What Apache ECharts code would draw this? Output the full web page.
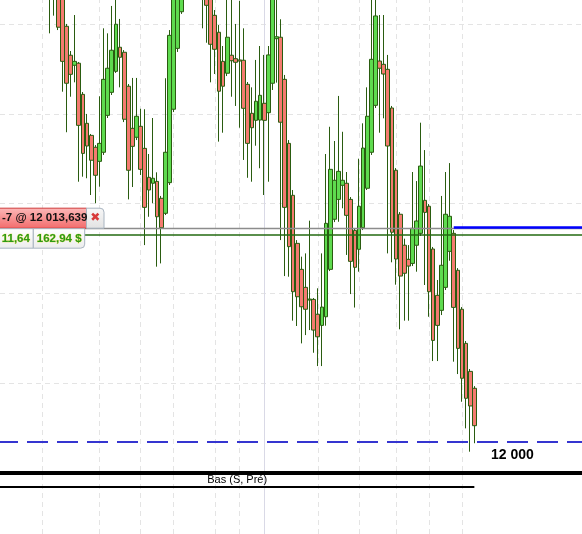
<!DOCTYPE html>
<html><head><meta charset="utf-8">
<script src="https://cdn.jsdelivr.net/npm/echarts@6/dist/echarts.min.js"></script>
<style>html,body{margin:0;padding:0;background:#fff;overflow:hidden}#c{width:582px;height:534px}</style>
</head><body><div id="c"></div>
<script>
// ---- candle data (bar index, OHLC) ----
const opens = [12031.42,12029.50,12030.14,12028.54,12026.54,12024.69,12024.05,12024.18,12022.19,12020.34,
 12019.57,12018.81,12017.91,12018.49,12020.85,12022.32,12023.66,12025.20,12024.88,12022.71,
 12020.02,12019.45,12020.15,12018.74,12016.89,12016.51,12016.63,12015.55,12014.59,12016.55,
 12021.24,12025.13,12027.47,12031.10,12032.69,12031.73,12033.01,12030.78,12028.86,12028.54,
 12027.24,12026.16,12024.30,12023.54,12024.69,12024.47,12024.39,12024.37,12022.83,12020.98,
 12020.53,12020.55,12021.62,12021.02,12022.90,12025.75,12025.84,12023.15,12019.06,12015.74,
 12012.67,12011.01,12009.86,12009.05,12009.09,12008.14,12007.43,12007.98,12011.01,12014.21,
 12015.48,12016.38,12016.51,12015.48,12013.50,12012.29,12013.67,12016.19,12018.49,12021.49,
 12024.32,12024.11,12023.79,12021.32,12017.34,12014.53,12012.55,12011.65,12011.39,12012.55,
 12013.31,12015.42,12015.04,12012.31,12009.35,12008.39,12009.86,12012.16,12013.31,12010.95,
 12008.46,12006.28,12004.49,12003.41];
const closes = [12029.18,12031.10,12026.48,12024.30,12022.90,12023.47,12024.30,12020.21,12018.42,12018.89,
 12017.98,12017.02,12019.06,12023.15,12023.86,12025.01,12026.67,12024.56,12020.60,12017.34,
 12018.87,12020.79,12017.40,12014.97,12016.08,12016.83,12014.37,12013.67,12018.49,12025.96,
 12029.18,12030.14,12030.78,12032.69,12031.73,12033.01,12030.78,12028.86,12027.88,12025.39,
 12025.07,12022.39,12022.71,12025.84,12024.34,12024.24,12024.32,12021.30,12019.06,12020.06,
 12021.75,12022.13,12020.53,12024.71,12028.86,12025.87,12020.41,12014.97,12012.46,12009.58,
 12009.26,12008.62,12008.46,12009.11,12007.13,12006.70,12008.60,12013.95,12017.40,12016.70,
 12017.27,12016.70,12014.46,12011.52,12011.14,12015.04,12018.76,12020.79,12024.43,12027.20,
 12023.86,12023.49,12018.89,12013.38,12011.67,12010.58,12010.76,12011.22,12013.63,12014.10,
 12017.61,12014.65,12009.58,12006.47,12007.43,12011.27,12014.53,12014.40,12008.58,12005.96,
 12004.05,12002.77,12002.28,12001.02];
const lows = [12026.09,12027.22,12026.30,12022.36,12019.77,12022.04,12022.96,12016.61,12016.93,12016.83,
 12015.76,12015.23,12016.29,12018.32,12020.68,12022.15,12023.56,12022.64,12020.42,12015.48,
 12016.27,12019.27,12017.04,12012.56,12014.37,12015.23,12011.18,12011.39,12014.48,12016.40,
 12021.06,12024.90,12027.33,12030.46,12031.10,12031.29,12030.14,12026.41,12025.49,12022.96,
 12023.49,12019.17,12019.74,12023.36,12022.04,12021.45,12020.06,12018.00,12016.86,12016.61,
 12018.91,12017.47,12015.76,12016.61,12022.47,12022.94,12012.88,12010.58,12010.54,12007.73,
 12007.39,12006.28,12006.81,12007.13,12005.68,12004.83,12004.83,12007.41,12010.90,12014.03,
 12014.05,12014.91,12011.93,12009.43,12008.57,12010.86,12013.52,12016.08,12018.32,12021.32,
 12019.74,12020.66,12012.03,12011.46,12010.03,12007.18,12007.73,12007.73,12011.22,12010.86,
 12013.14,12010.01,12007.98,12005.15,12005.15,12008.09,12009.69,12011.56,12005.11,12004.32,
 12002.55,12000.85,11999.36,11999.90];
const highs = [12032.69,12032.05,12030.78,12029.18,12026.69,12024.96,12027.26,12024.26,12022.34,12020.94,
 12019.66,12018.95,12022.07,12026.41,12026.09,12027.84,12028.73,12027.01,12025.02,12022.85,
 12023.24,12023.24,12021.27,12021.24,12018.38,12020.68,12017.21,12015.70,12023.22,12026.30,
 12029.82,12030.78,12031.73,12033.33,12033.65,12033.97,12033.65,12031.42,12029.50,12028.99,
 12027.58,12026.62,12025.28,12028.54,12028.41,12026.69,12028.16,12026.41,12022.98,12022.64,
 12024.39,12025.28,12024.71,12025.28,12029.50,12029.18,12026.99,12023.43,12019.27,12016.08,
 12012.88,12011.82,12012.03,12014.12,12009.18,12009.80,12012.03,12018.38,12020.12,12019.21,
 12022.09,12019.80,12017.23,12015.63,12013.65,12018.08,12020.34,12022.64,12028.22,12028.35,
 12027.26,12027.26,12024.71,12021.45,12017.48,12014.67,12012.97,12012.56,12017.23,12016.65,
 12020.38,12018.63,12015.18,12012.44,12010.33,12015.70,12017.23,12017.80,12013.52,12011.09,
 12008.60,12006.43,12004.64,12003.55];

// ---- grid / levels ----
const vGridIdx = [-2, 12, 22, 30, 40, 46, 65, 75, 84, 92, 100];
const sessionBreakIdx = [52];
const hGridPrices = [12026.69, 12020.95, 12015.22, 12009.48, 12003.75];
const entryPrice = 12013.64;
const fillLinePrice = 12013.19;
const orderPrice = 12013.68;
const orderStartIdx = 98;
const targetPrice = 12000;
const thickLevelPrice = 11998.02;
const prevLowPrice = 11997.12;
const prevLowEndIdx = 103;
const positionText = '-7 @ 12 013,639';
const pnlPointsText = '11,64';
const pnlCashText = '162,94 $';
const targetText = '12 000';
const prevLowText = 'Bas (S, Pré)';

const X_MIN = -12.136, X_MAX = 129.13;
const Y_MIN = 11994.10, Y_MAX = 12028.22;

const candleData = opens.map((o, i) => [i, o, closes[i], lows[i], highs[i]]);

const chart = echarts.init(document.getElementById('c'), null, {renderer: 'canvas'});
const gridLineStyle = {color: '#e4e4e4', width: 1, type: [5, 4]};

chart.setOption({
  animation: false,
  backgroundColor: '#ffffff',
  grid: {left: 0, right: 0, top: 0, bottom: 0, containLabel: false},
  xAxis: {type: 'value', min: X_MIN, max: X_MAX, show: false},
  yAxis: {type: 'value', min: Y_MIN, max: Y_MAX, show: false},
  series: [
    {
      type: 'line', data: [], z: 1, silent: true,
      markLine: {
        silent: true, symbol: ['none', 'none'], z: 1, label: {show: false},
        lineStyle: gridLineStyle,
        data: [
          ...vGridIdx.map(i => ({xAxis: i, lineStyle: gridLineStyle})),
          ...hGridPrices.map(p => ({yAxis: p, lineStyle: gridLineStyle})),
          ...sessionBreakIdx.map(i => ({xAxis: i, lineStyle: {color: '#d9d9e6', width: 1, type: 'solid'}}))
        ]
      }
    },
    {
      type: 'candlestick', z: 3,
      data: candleData,
      encode: {x: 0, y: [1, 2, 3, 4]},
      barWidth: 4.2,
      itemStyle: {
        color: '#5edb4f', color0: '#f47b70',
        borderColor: '#2a5c10', borderColor0: '#2a5c10', borderWidth: 1
      }
    },
    {
      type: 'line', data: [], z: 5, silent: true,
      markLine: {
        silent: true, symbol: ['none', 'none'], z: 5, label: {show: false},
        data: [
          {yAxis: entryPrice, lineStyle: {color: '#8c8c8c', width: 1.4, type: 'solid'}},
          {yAxis: fillLinePrice, lineStyle: {color: '#236a10', width: 1.5, type: 'solid'}},
          [{coord: [orderStartIdx, orderPrice], lineStyle: {color: '#0000ff', width: 2.5, type: 'solid'}},
           {coord: [X_MAX, orderPrice]}],
          {yAxis: targetPrice, lineStyle: {color: '#3535d0', width: 2, type: [21, 9], dashOffset: 3}},
          {yAxis: thickLevelPrice, lineStyle: {color: '#000000', width: 4, type: 'solid'}},
          [{coord: [X_MIN, prevLowPrice], lineStyle: {color: '#000000', width: 2, type: 'solid'},
            label: {show: true, position: 'insideMiddleTop', formatter: prevLowText, color: '#000',
                    fontSize: 11, fontFamily: 'Liberation Sans, Arial', distance: 1}},
           {coord: [prevLowEndIdx, prevLowPrice]}]
        ]
      }
    }
  ]
});

// ---- position / target annotations anchored on price levels ----
const Y = chart.convertToPixel({yAxisIndex: 0}, entryPrice);
const YT = chart.convertToPixel({yAxisIndex: 0}, targetPrice);
const font = 'Liberation Sans, Arial, sans-serif';
const grad = (a, b) => new echarts.graphic.LinearGradient(0, 0, 0, 1, [{offset: 0, color: a}, {offset: 1, color: b}]);
chart.setOption({
  graphic: [
    {type: 'rect', z: 100, shape: {x: -4, y: Y - 20, width: 90.5, height: 20},
     style: {fill: grad('#fcb9b9', '#f26b6b'), stroke: '#cf3a3a', lineWidth: 1}},
    {type: 'text', z: 101, style: {text: positionText, x: 2, y: Y - 10, verticalAlign: 'middle',
     fill: '#111', font: 'bold 11.5px ' + font}},
    {type: 'rect', z: 100, shape: {x: 86.5, y: Y - 20, width: 17.5, height: 20, r: [0, 4, 0, 0]},
     style: {fill: grad('#f8f8f8', '#e2e2e2'), stroke: '#a8b4c0', lineWidth: 1}},
    {type: 'text', z: 101, style: {text: '✖', x: 95.3, y: Y - 10, align: 'center', verticalAlign: 'middle',
     fill: '#d83a3a', font: 'bold 12px DejaVu Sans'}},
    {type: 'rect', z: 100, shape: {x: -4, y: Y + 0.5, width: 37.3, height: 19.5},
     style: {fill: grad('#ffffff', '#ececec'), stroke: '#a8b4c0', lineWidth: 1}},
    {type: 'text', z: 101, style: {text: pnlPointsText, x: 15.8, y: Y + 10.3, align: 'center', verticalAlign: 'middle',
     fill: '#2b9a12', stroke: '#f0e060', lineWidth: 0.6, font: 'bold 11.5px ' + font}},
    {type: 'rect', z: 100, shape: {x: 33.3, y: Y + 0.5, width: 51.4, height: 19.5, r: [0, 0, 4, 0]},
     style: {fill: grad('#ffffff', '#ececec'), stroke: '#a8b4c0', lineWidth: 1}},
    {type: 'text', z: 101, style: {text: pnlCashText, x: 59.2, y: Y + 10.3, align: 'center', verticalAlign: 'middle',
     fill: '#2b9a12', stroke: '#f0e060', lineWidth: 0.6, font: 'bold 11.5px ' + font}},
    {type: 'text', z: 101, style: {text: targetText, x: 491, y: YT + 13.5, verticalAlign: 'middle',
     fill: '#000', font: 'bold 14px ' + font}}
  ]
});
</script></body></html>
